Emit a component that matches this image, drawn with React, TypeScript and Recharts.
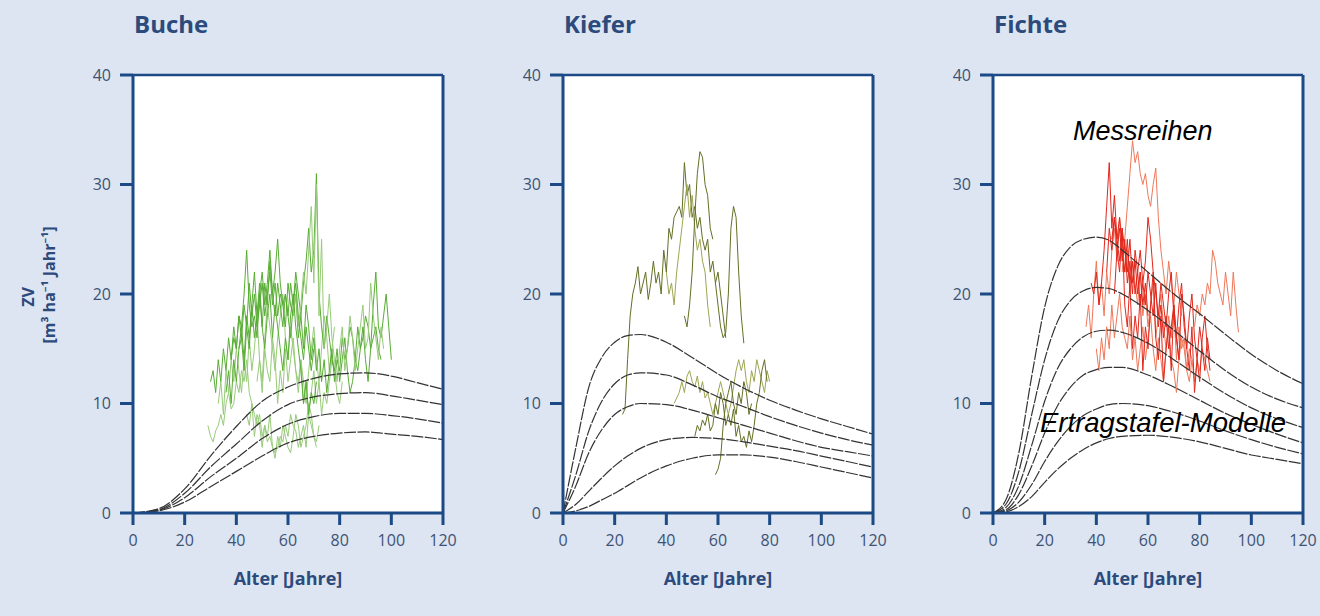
import React from 'react';
import { LineChart, Line, XAxis, YAxis, CartesianGrid, ReferenceLine } from 'recharts';

const X_TICKS = [0, 20, 40, 60, 80, 100, 120];
const Y_TICKS = [0, 10, 20, 30, 40];

// Ertragstafel-Modelle
const BUCHE_MODEL_AGES = [0, 10, 20, 30, 40, 50, 60, 70, 80, 90, 100, 110, 120];
const BUCHE_MODEL_1 = [0, 0.4, 2.2, 5.2, 7.9, 10.2, 11.5, 12.3, 12.7, 12.8, 12.5, 11.9, 11.3];
const BUCHE_MODEL_2 = [0, 0.3, 1.8, 4.2, 6.3, 8.4, 9.9, 10.6, 10.9, 11.0, 10.7, 10.3, 9.9];
const BUCHE_MODEL_3 = [0, 0.25, 1.4, 3.3, 5.0, 6.8, 8.1, 8.8, 9.1, 9.1, 8.9, 8.6, 8.2];
const BUCHE_MODEL_4 = [0, 0.2, 1.0, 2.4, 3.8, 5.2, 6.4, 7.0, 7.3, 7.4, 7.2, 7.0, 6.7];

const KIEFER_MODEL_AGES = [0, 5, 10, 15, 20, 25, 30, 40, 50, 60, 70, 80, 90, 100, 110, 120];
const KIEFER_MODEL_1 = [0, 6, 11.5, 14.2, 15.6, 16.2, 16.3, 15.6, 14.2, 12.7, 11.4, 10.3, 9.4, 8.6, 7.9, 7.2];
const KIEFER_MODEL_2 = [0, 3.5, 7.5, 10.2, 11.8, 12.6, 12.8, 12.6, 11.7, 10.6, 9.7, 8.8, 8.0, 7.3, 6.7, 6.2];
const KIEFER_MODEL_3 = [0, 2.5, 5.5, 7.6, 9.0, 9.7, 10.0, 9.9, 9.4, 8.7, 8.0, 7.3, 6.6, 6.0, 5.6, 5.2];
const KIEFER_MODEL_4 = [0, 0.8, 2.0, 3.2, 4.3, 5.2, 5.9, 6.7, 6.9, 6.8, 6.5, 6.1, 5.7, 5.2, 4.7, 4.2];
const KIEFER_MODEL_5 = [0, 0.2, 0.6, 1.2, 1.8, 2.5, 3.2, 4.3, 5.0, 5.3, 5.3, 5.1, 4.7, 4.2, 3.7, 3.2];

const FICHTE_MODEL_AGES = [0, 5, 10, 15, 20, 25, 30, 35, 40, 45, 50, 60, 70, 80, 90, 100, 110, 120];
const FICHTE_MODEL_1 = [0, 1.2, 5.5, 12.5, 18.8, 22.5, 24.3, 25.0, 25.2, 24.9, 24.0, 22.0, 20.0, 18.2, 16.3, 14.5, 13.0, 11.8];
const FICHTE_MODEL_2 = [0, 0.8, 3.8, 9.0, 14.0, 17.5, 19.4, 20.3, 20.6, 20.5, 20.0, 18.5, 16.7, 14.8, 13.0, 11.5, 10.4, 9.6];
const FICHTE_MODEL_3 = [0, 0.5, 2.5, 6.2, 10.2, 13.2, 15.0, 16.1, 16.6, 16.7, 16.5, 15.5, 14.0, 12.4, 10.9, 9.6, 8.6, 7.8];
const FICHTE_MODEL_4 = [0, 0.3, 1.7, 4.3, 7.3, 9.8, 11.5, 12.6, 13.1, 13.3, 13.3, 12.6, 11.5, 10.3, 9.1, 8.1, 7.2, 6.4];
const FICHTE_MODEL_5 = [0, 0.2, 1.0, 2.6, 4.7, 6.5, 7.9, 8.9, 9.5, 9.9, 10.0, 9.8, 9.2, 8.4, 7.5, 6.7, 6.0, 5.4];
const FICHTE_MODEL_6 = [0, 0.1, 0.6, 1.5, 2.8, 4.0, 5.0, 5.8, 6.4, 6.8, 7.0, 7.1, 6.9, 6.5, 5.9, 5.3, 4.9, 4.5];

// Messreihen: Startalter + jährliche Werte
const BUCHE_1 = [8, 7, 6.5, 7.5, 8, 9, 8, 10, 11, 9.5, 10, 12, 11, 13, 12, 14, 11, 10, 9, 8, 9, 7, 8, 6.5, 7, 6, 5.5, 6, 7, 6.5, 8, 7, 9, 8, 7.5, 6, 7, 8, 6, 9, 8, 7, 6.5, 8];
const BUCHE_2 = [12, 13, 11, 14, 12, 15, 13, 16, 14, 17, 15, 18, 16, 19, 17, 21, 18, 20, 17, 19, 21, 18, 20, 22, 19, 21, 18, 20, 19, 17, 21, 19, 18, 20, 16, 18, 15, 19, 17, 14, 16, 13, 15, 12, 14, 11, 13, 15, 12, 14, 13, 16, 14, 15, 17, 16, 14, 17, 15, 16, 18, 17, 15, 16, 17, 15, 14];
const BUCHE_3 = [14, 16, 15, 18, 17, 20, 24, 19, 17, 18, 16, 20, 22, 19, 21, 24, 20, 22, 25, 21, 19, 20, 18, 21, 19, 22, 20, 18, 21, 23, 26, 22, 24, 31, 20, 17, 15, 18, 16, 14, 13, 15, 12, 14, 16, 13, 11, 12, 14, 13, 15, 17, 14, 12, 15, 19, 22, 17, 16, 18, 20, 17, 14];
const BUCHE_4 = [10, 12, 9, 13, 11, 14, 12, 15, 13, 11, 14, 12, 16, 13, 15, 18, 14, 12, 16, 19, 17, 15, 13, 16, 18, 20, 16, 14, 17, 15, 13, 12, 14, 10, 12, 9, 11, 13, 10, 12, 9, 11, 10, 12, 14, 13, 11, 10, 12];
const BUCHE_5 = [9, 8, 10, 7, 9, 8, 6, 8, 7, 9, 6, 5, 7, 6, 8, 7, 6, 5.5, 7, 9, 8, 6, 7, 8, 10, 9, 7, 6];
const BUCHE_6 = [18, 20, 17, 19, 22, 20, 24, 28, 21, 30, 18, 25, 15, 17, 20, 16, 14, 12, 15, 17, 13, 15, 18, 16, 13, 15, 17, 19, 15, 16, 21, 18, 16, 14, 17, 15];
const BUCHE_7 = [11, 13, 10, 14, 12, 15, 16, 13, 17, 15, 19, 16, 18, 21, 17, 15, 18, 20, 16, 19, 17, 15, 13, 16, 14, 18, 20, 17, 15, 13, 10, 12, 9, 11, 10, 12];
const BUCHE_8 = [15, 17, 14, 18, 16, 19, 22, 18, 20, 17, 21, 19, 23, 20, 18, 21, 19, 17, 20, 18, 16, 19, 21, 18, 16, 14, 17, 15, 13, 15];
const BUCHE_9 = [12, 14, 11, 15, 13, 12, 16, 14, 10, 13, 11, 15, 12, 14, 16, 13, 11, 14, 12, 10, 13, 15, 17, 14, 12, 15, 18, 16, 13, 15, 17];

const KIEFER_1 = [9, 9.5, 14, 18, 20, 21, 22.5, 20, 21, 22, 19.5, 21, 23, 21, 22, 20, 24, 22, 26, 25, 27, 27.5, 28, 27, 32, 29, 30, 27, 28, 26, 27, 25, 24, 25, 22, 23, 21, 22, 20, 18, 16];
const KIEFER_2 = [22, 20, 21, 19, 22, 24, 26, 28, 30, 27, 29, 26, 24, 25, 23, 22, 19, 17];
const KIEFER_3 = [18, 17, 19, 22, 27, 31, 33, 32.5, 30, 29, 26, 25];
const KIEFER_4 = [21, 19, 17, 16, 16.5, 20, 26, 28, 27, 22, 18, 15.5];
const KIEFER_5 = [10, 10.5, 11, 12, 11, 12.5, 13, 12, 11.5, 12.5, 11, 12, 10.5, 11, 10, 9, 10, 11, 12, 11, 10, 9, 10, 11.5, 13, 14, 13, 14, 12, 11, 13, 12, 14, 13, 12, 11, 13, 12];
const KIEFER_6 = [7, 8, 7.5, 8.5, 8, 9, 7.5, 8, 10, 9, 11, 10, 8, 9, 8, 9.5, 7, 8, 6.5, 7, 6, 7.5, 6.5, 8, 10, 11, 13, 14, 12];
const KIEFER_7 = [3.5, 4, 5, 8, 10, 11, 12, 10, 9, 11, 10, 12, 11, 9, 10];

const FICHTE_1 = [17, 19, 16, 20, 23, 19, 21, 18, 22, 20, 24, 26, 23, 27, 25, 22, 24, 20, 23, 21, 19, 22, 18, 20, 17, 19, 21, 16, 18, 20, 17, 15, 18, 16, 19, 14, 17, 15, 16, 13, 15, 14, 12, 14, 13, 15, 14, 13, 12];
const FICHTE_2 = [21, 20, 22, 19, 21, 24, 28, 32, 26, 29, 25, 27, 24, 22, 25, 21, 23, 20, 22, 24, 21, 19, 22, 20, 18, 21, 17, 19, 16, 18, 15, 17, 19, 16, 14];
const FICHTE_3 = [15, 13, 16, 14, 17, 15, 19, 16, 18, 20, 17, 16, 15, 18, 14, 16, 13, 15, 17, 14, 16, 18, 15, 13, 16, 14, 12, 15, 17, 14, 13, 11, 14, 16, 15, 13, 12, 14];
const FICHTE_4 = [22, 25, 28, 31, 34, 32, 33, 31, 30, 31, 29, 28, 30, 31.5, 27, 24, 22, 20, 23, 21, 19, 22, 20, 18];
const FICHTE_5 = [25, 27, 24, 26, 23, 25, 21, 23, 20, 24, 22, 19, 21, 23, 27, 25, 22, 20, 18, 21, 19, 17, 20, 22, 18, 16, 19, 21, 17, 15, 18, 20, 16, 14, 17, 15, 13, 16, 14];
const FICHTE_6 = [20, 24, 22, 26, 19, 17, 21, 15, 18, 16, 20, 13, 17, 15, 19, 22, 16, 14, 18, 12, 15, 17, 13, 19, 16, 14, 20, 18, 15, 13, 17, 11, 14, 12, 16, 18, 15, 13];
const FICHTE_7 = [17, 19, 18, 20, 19, 21, 20, 24, 23, 21, 20, 19, 22, 20, 18, 22, 19, 16.5];
const FICHTE_8 = [22, 26, 24, 27, 25, 23, 26, 24, 22, 25, 21, 23, 20, 22, 19, 21, 18];

const GREEN = '#58ad33';
const GREEN_LIGHT = '#98cb7a';
const OLIVE = '#646f25';
const OLIVE_LIGHT = '#9ea551';
const RED = '#e2261b';
const RED_LIGHT = '#f0785a';

const BUCHE_SERIES = [
    { start: 29, values: BUCHE_1, color: GREEN_LIGHT },
    { start: 44, values: BUCHE_5, color: GREEN_LIGHT },
    { start: 33, values: BUCHE_4, color: GREEN_LIGHT },
    { start: 48, values: BUCHE_9, color: GREEN_LIGHT },
    { start: 30, values: BUCHE_2, color: GREEN },
    { start: 38, values: BUCHE_3, color: GREEN },
    { start: 62, values: BUCHE_6, color: GREEN_LIGHT },
    { start: 36, values: BUCHE_7, color: GREEN },
    { start: 41, values: BUCHE_8, color: GREEN },
];
const KIEFER_SERIES = [
    { start: 23, values: KIEFER_1, color: OLIVE },
    { start: 40, values: KIEFER_2, color: OLIVE_LIGHT },
    { start: 47, values: KIEFER_3, color: OLIVE },
    { start: 59, values: KIEFER_4, color: OLIVE },
    { start: 43, values: KIEFER_5, color: OLIVE_LIGHT },
    { start: 51, values: KIEFER_6, color: OLIVE },
    { start: 59, values: KIEFER_7, color: OLIVE },
];
const FICHTE_SERIES = [
    { start: 36, values: FICHTE_1, color: RED_LIGHT },
    { start: 38, values: FICHTE_2, color: RED },
    { start: 40, values: FICHTE_3, color: RED_LIGHT },
    { start: 50, values: FICHTE_4, color: RED_LIGHT },
    { start: 46, values: FICHTE_5, color: RED },
    { start: 47, values: FICHTE_6, color: RED },
    { start: 78, values: FICHTE_7, color: RED_LIGHT },
    { start: 44, values: FICHTE_8, color: RED },
];

const BUCHE_MODELS = [BUCHE_MODEL_1, BUCHE_MODEL_2, BUCHE_MODEL_3, BUCHE_MODEL_4];
const KIEFER_MODELS = [KIEFER_MODEL_1, KIEFER_MODEL_2, KIEFER_MODEL_3, KIEFER_MODEL_4, KIEFER_MODEL_5];
const FICHTE_MODELS = [FICHTE_MODEL_1, FICHTE_MODEL_2, FICHTE_MODEL_3, FICHTE_MODEL_4, FICHTE_MODEL_5, FICHTE_MODEL_6];

const AXIS_BLUE = '#1b4a86';
const TEXT_BLUE = '#2c4a7c';
const TICK_TEXT = '#3f5274';
const FONT = '"Open Sans", "Noto Sans", sans-serif';

const toPoints = (start: number, values: number[]) => values.map((v, i) => ({ x: start + i, y: v }));
const modelPoints = (ages: number[], values: number[]) => ages.map((a, i) => ({ x: a, y: values[i] }));

interface Series {
    start: number;
    values: number[];
    color: string;
}

interface PanelProps {
    left: number;
    title: string;
    series: Series[];
    modelAges: number[];
    models: number[][];
}

const Panel: React.FC<PanelProps> = ({ left, title, series, modelAges, models }) => (
    <div style={{ position: 'absolute', left, top: 0, width: 460, height: 616 }}>
        <div
            style={{
                position: 'absolute',
                left: 134,
                top: 10,
                fontSize: 24,
                lineHeight: '28px',
                fontWeight: 700,
                color: TEXT_BLUE,
            }}
        >
            {title}
        </div>
        <LineChart width={460} height={616} margin={{ top: 75, right: 17, bottom: 63, left: 73 }}>
            <rect x={133} y={75} width={310} height={438} fill="#ffffff" />
            <CartesianGrid vertical={false} stroke="#98a2bd" strokeWidth={1.5} />
            <XAxis
                type="number"
                dataKey="x"
                domain={[0, 120]}
                ticks={X_TICKS}
                allowDataOverflow
                height={40}
                tickSize={12}
                tickMargin={10}
                tick={{ fill: TICK_TEXT, fontSize: 16, fontFamily: FONT }}
                axisLine={{ stroke: AXIS_BLUE, strokeWidth: 3 }}
                tickLine={{ stroke: AXIS_BLUE, strokeWidth: 3 }}
            />
            <YAxis
                type="number"
                domain={[0, 40]}
                ticks={Y_TICKS}
                allowDataOverflow
                width={60}
                tickSize={13}
                tickMargin={9}
                tick={{ fill: TICK_TEXT, fontSize: 16, fontFamily: FONT }}
                axisLine={{ stroke: AXIS_BLUE, strokeWidth: 3 }}
                tickLine={{ stroke: AXIS_BLUE, strokeWidth: 3 }}
            />
            {series.map((s, i) => (
                <Line
                    key={`m-${i}`}
                    data={toPoints(s.start, s.values)}
                    dataKey="y"
                    type="linear"
                    stroke={s.color}
                    strokeWidth={1}
                    dot={false}
                    activeDot={false}
                    isAnimationActive={false}
                />
            ))}
            {models.map((m, i) => (
                <Line
                    key={`e-${i}`}
                    data={modelPoints(modelAges, m)}
                    dataKey="y"
                    type="monotone"
                    stroke="#333333"
                    strokeWidth={1.2}
                    strokeDasharray="12 1.5"
                    dot={false}
                    activeDot={false}
                    isAnimationActive={false}
                />
            ))}
            <ReferenceLine y={40} stroke={AXIS_BLUE} strokeWidth={2.5} />
            <ReferenceLine x={120} stroke={AXIS_BLUE} strokeWidth={3} />
        </LineChart>
        <div
            style={{
                position: 'absolute',
                left: 133,
                width: 310,
                top: 567,
                textAlign: 'center',
                fontSize: 18,
                lineHeight: '22px',
                fontWeight: 700,
                color: TEXT_BLUE,
            }}
        >
            Alter [Jahre]
        </div>
    </div>
);

const App: React.FC = () => (
    <div
        style={{
            position: 'absolute',
            left: 0,
            top: 0,
            width: 1320,
            height: 616,
            background: '#dce5f1',
            fontFamily: FONT,
            overflow: 'hidden',
        }}
    >
        <Panel left={0} title="Buche" series={BUCHE_SERIES} modelAges={BUCHE_MODEL_AGES} models={BUCHE_MODELS} />
        <Panel left={430} title="Kiefer" series={KIEFER_SERIES} modelAges={KIEFER_MODEL_AGES} models={KIEFER_MODELS} />
        <Panel left={860} title="Fichte" series={FICHTE_SERIES} modelAges={FICHTE_MODEL_AGES} models={FICHTE_MODELS} />
        <svg style={{ position: 'absolute', left: 0, top: 0 }} width={80} height={616}>
            <text
                transform="translate(28 297) rotate(-90)"
                textAnchor="middle"
                dominantBaseline="central"
                fontSize={16}
                fontWeight={700}
                fill={TEXT_BLUE}
                fontFamily={FONT}
            >
                ZV
            </text>
            <text
                transform="translate(49 285) rotate(-90)"
                textAnchor="middle"
                dominantBaseline="central"
                fontSize={16}
                fontWeight={700}
                fill={TEXT_BLUE}
                fontFamily={FONT}
            >
                [m³ ha⁻¹ Jahr⁻¹]
            </text>
        </svg>
        <div
            style={{
                position: 'absolute',
                left: 1073,
                top: 113,
                fontFamily: '"Liberation Sans", Arial, sans-serif',
                fontStyle: 'italic',
                fontSize: 27,
                lineHeight: '36px',
                color: '#000',
            }}
        >
            Messreihen
        </div>
        <div
            style={{
                position: 'absolute',
                left: 1040,
                top: 405,
                fontFamily: '"Liberation Sans", Arial, sans-serif',
                fontStyle: 'italic',
                fontSize: 27.5,
                lineHeight: '36px',
                color: '#000',
            }}
        >
            Ertragstafel-Modelle
        </div>
    </div>
);

export default App;
